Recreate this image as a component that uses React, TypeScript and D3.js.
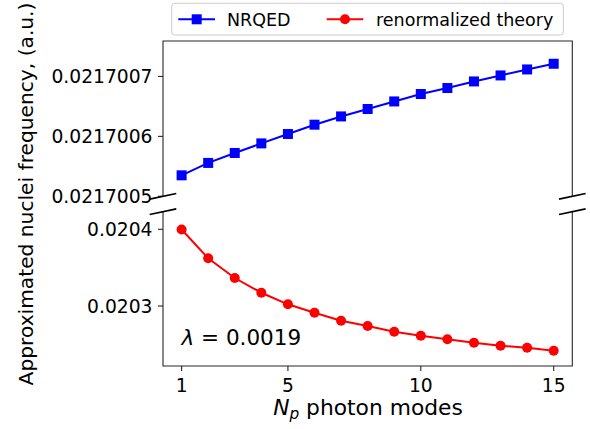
import React from "react";
import * as d3 from "d3";

// Photon mode counts on the x axis
const photonModes = [1, 2, 3, 4, 5, 6, 7, 8, 9, 10, 11, 12, 13, 14, 15];

// NRQED nuclei frequency (a.u.)
const nrqedValues = [
  0.021700535, 0.0217005557, 0.0217005723, 0.0217005883, 0.021700604,
  0.0217006195, 0.0217006333, 0.0217006457, 0.0217006583, 0.0217006707,
  0.0217006807, 0.0217006917, 0.0217007017, 0.0217007117, 0.0217007212,
];

// Renormalized theory nuclei frequency (a.u.)
const renormValues = [
  0.0203997, 0.0203622, 0.0203365, 0.0203173, 0.0203022, 0.0202913,
  0.0202808, 0.0202739, 0.0202665, 0.0202613, 0.0202566, 0.0202522,
  0.0202482, 0.0202456, 0.0202417,
];

const xTicks = [1, 5, 10, 15];
const topTicks = [0.0217005, 0.0217006, 0.0217007];
const topTickLabels = ["0.0217005", "0.0217006", "0.0217007"];
const bottomTicks = [0.0203, 0.0204];
const bottomTickLabels = ["0.0203", "0.0204"];

const xLim = [0.3, 15.7];
const topLim = [0.0217005, 0.02170075917];
const bottomLim = [0.02022177, 0.02042295];

const seriesNames = ["NRQED", "renormalized theory"];
const seriesColors = ["#0000ff", "#ff0000"];

const W = 590;
const H = 429;
const FONT = "DejaVu Sans, sans-serif";

const plotLeft = 163;
const plotRight = 572.3;
const topBox = { y0: 41, y1: 196.3 };
const botBox = { y0: 211.7, y1: 366 };

export default function App() {
  const x = d3.scaleLinear().domain(xLim).range([plotLeft, plotRight]);
  const yTop = d3.scaleLinear().domain(topLim).range([topBox.y1, topBox.y0]);
  const yBot = d3.scaleLinear().domain(bottomLim).range([botBox.y1, botBox.y0]);

  const topPts: [number, number][] = photonModes.map((n, i) => [x(n), yTop(nrqedValues[i])]);
  const botPts: [number, number][] = photonModes.map((n, i) => [x(n), yBot(renormValues[i])]);
  const line = d3.line();

  const spine = "#262626";
  const tickFs = 18.7;
  const breakMark = (cx: number, cy: number, key: string) => (
    <line key={key} x1={cx - 13.3} y1={cy + 2.8} x2={cx + 13.3} y2={cy - 2.8} stroke="#000" strokeWidth={1.6} />
  );

  return (
    <div style={{ position: "fixed", left: 0, top: 0 }}>
      <svg width={W} height={H} style={{ display: "block", background: "#fff" }} fontFamily={FONT}>
        <rect width={W} height={H} fill="#fff" />

        {/* upper panel: NRQED */}
        <path d={line(topPts) || ""} fill="none" stroke={seriesColors[0]} strokeWidth={2} />
        {topPts.map(([px, py], i) => (
          <rect key={"s" + i} x={px - 5} y={py - 5} width={10} height={10} fill={seriesColors[0]} />
        ))}
        <path
          d={`M${plotLeft},${topBox.y1}V${topBox.y0}H${plotRight}V${topBox.y1}`}
          fill="none"
          stroke={spine}
          strokeWidth={1.1}
        />
        {topTicks.map((t, i) => (
          <g key={"tt" + i}>
            <line x1={plotLeft - 5} x2={plotLeft} y1={yTop(t)} y2={yTop(t)} stroke={spine} strokeWidth={1.1} />
            <text x={plotLeft - 10.5} y={yTop(t) + 7} textAnchor="end" fontSize={tickFs} fill="#000">
              {topTickLabels[i]}
            </text>
          </g>
        ))}

        {/* lower panel: renormalized theory */}
        <path d={line(botPts) || ""} fill="none" stroke={seriesColors[1]} strokeWidth={2} />
        {botPts.map(([px, py], i) => (
          <circle key={"c" + i} cx={px} cy={py} r={5} fill={seriesColors[1]} />
        ))}
        <path
          d={`M${plotLeft},${botBox.y0}V${botBox.y1}H${plotRight}V${botBox.y0}`}
          fill="none"
          stroke={spine}
          strokeWidth={1.1}
        />
        {bottomTicks.map((t, i) => (
          <g key={"bt" + i}>
            <line x1={plotLeft - 5} x2={plotLeft} y1={yBot(t)} y2={yBot(t)} stroke={spine} strokeWidth={1.1} />
            <text x={plotLeft - 10.5} y={yBot(t) + 7} textAnchor="end" fontSize={tickFs} fill="#000">
              {bottomTickLabels[i]}
            </text>
          </g>
        ))}
        {xTicks.map((t) => (
          <g key={"xt" + t}>
            <line x1={x(t)} x2={x(t)} y1={botBox.y1} y2={botBox.y1 + 5} stroke={spine} strokeWidth={1.1} />
            <text x={x(t)} y={391.7} textAnchor="middle" fontSize={tickFs} fill="#000">
              {t}
            </text>
          </g>
        ))}

        {/* axis break marks */}
        {breakMark(plotLeft, topBox.y1, "b1")}
        {breakMark(plotRight, topBox.y1, "b2")}
        {breakMark(plotLeft, botBox.y0, "b3")}
        {breakMark(plotRight, botBox.y0, "b4")}

        {/* annotation */}
        <text x={181.5} y={345} fontSize={21.5} fill="#000">
          <tspan fontStyle="italic">λ</tspan>
          <tspan> = 0.0019</tspan>
        </text>

        {/* axis labels */}
        <text x={368} y={415} textAnchor="middle" fontSize={21.8} fill="#000">
          <tspan fontStyle="italic">N</tspan>
          <tspan fontStyle="italic" fontSize={15.3} dy={4}>p</tspan>
          <tspan dy={-4}> photon modes</tspan>
        </text>
        <text
          transform="translate(33,194) rotate(-90)"
          textAnchor="middle"
          fontSize={20.2}
          fill="#000"
        >
          Approximated nuclei frequency, (a.u.)
        </text>

        {/* legend */}
        <rect x={171.7} y={3.3} width={391.6} height={31.7} rx={3} fill="#fff" fillOpacity={0.8} stroke="#cccccc" strokeWidth={1} />
        <line x1={178.3} x2={215} y1={19.3} y2={19.3} stroke={seriesColors[0]} strokeWidth={2} />
        <rect x={196.7 - 5} y={19.3 - 5} width={10} height={10} fill={seriesColors[0]} />
        <text x={227} y={25.5} fontSize={17.5} fill="#000">{seriesNames[0]}</text>
        <line x1={326.7} x2={363.3} y1={19.3} y2={19.3} stroke={seriesColors[1]} strokeWidth={2} />
        <circle cx={345} cy={19.3} r={5} fill={seriesColors[1]} />
        <text x={376} y={25.5} fontSize={17.5} fill="#000">{seriesNames[1]}</text>
      </svg>
    </div>
  );
}
